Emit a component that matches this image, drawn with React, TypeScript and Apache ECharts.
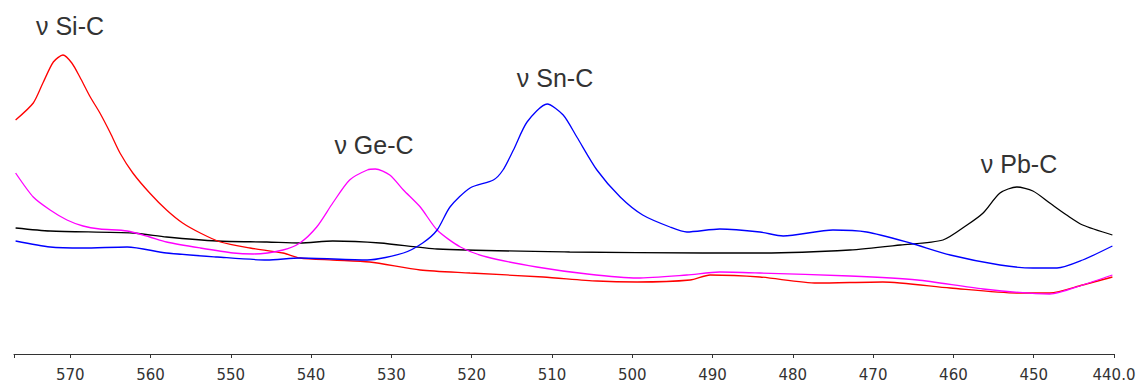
import React, { useEffect, useRef } from "react";
import * as echarts from "echarts";

// wavenumber (cm-1) / relative intensity (arbitrary units)
const siC: [number, number][] = [
  [576.8, 234], [574.6, 251], [573.4, 271], [572.1, 292], [570.9, 299], [569.8, 291],
  [568.8, 277], [567.5, 257], [566.3, 241], [565.0, 221], [563.8, 201], [562.2, 181],
  [560.1, 161], [558.0, 144], [556.0, 131], [553.8, 121], [551.3, 112], [547.6, 106],
  [543.5, 101], [541.4, 96], [537.3, 94], [532.7, 92], [526.4, 84], [520.2, 81],
  [511.1, 77], [504.4, 73], [499.4, 72], [492.8, 74], [490.3, 79], [484.1, 77],
  [477.0, 71], [468.8, 72], [460.4, 66], [452.1, 61], [448.0, 61], [443.9, 69], [440.2, 77],
];

const geC: [number, number][] = [
  [576.8, 181], [574.6, 157], [572.5, 144], [570.4, 134], [568.4, 128], [566.3, 125],
  [562.9, 123], [560.1, 117], [558.0, 112], [553.8, 106], [549.7, 101], [547.2, 100],
  [543.5, 104], [541.4, 111], [539.3, 127], [537.3, 151], [535.2, 174], [533.0, 184],
  [532.0, 185], [530.2, 179], [528.5, 164], [526.4, 147], [524.3, 124], [521.4, 107],
  [518.1, 97], [511.9, 87], [505.6, 80], [499.4, 76], [493.2, 79], [489.1, 82],
  [484.1, 81], [472.9, 78], [464.5, 74], [456.3, 65], [448.0, 60], [443.9, 69], [440.2, 79],
];

const snC: [number, number][] = [
  [576.8, 113], [572.5, 107], [568.4, 106], [562.9, 107], [558.0, 101], [551.7, 97],
  [545.5, 94], [541.4, 96], [533.0, 94], [528.5, 101], [526.1, 111], [524.3, 124],
  [522.7, 147], [520.2, 166], [517.3, 174], [516.1, 184], [514.8, 204], [513.1, 232],
  [510.6, 250], [508.6, 239], [506.9, 217], [504.4, 184], [501.5, 157], [498.7, 139],
  [495.3, 127], [493.2, 122], [489.1, 125], [484.1, 122], [481.2, 118], [475.0, 124],
  [470.8, 122], [465.4, 111], [460.4, 99], [454.2, 89], [450.1, 86], [447.1, 86],
  [443.9, 94], [440.2, 108],
];

const pbC: [number, number][] = [
  [576.8, 126], [572.5, 123], [562.2, 121], [558.0, 117], [551.7, 113], [545.5, 112],
  [541.4, 111], [537.3, 113], [531.4, 111], [524.3, 105], [507.8, 102], [491.2, 101],
  [484.1, 101], [472.9, 104], [466.6, 109], [461.3, 114], [458.3, 129], [456.3, 141],
  [454.2, 161], [452.1, 167], [450.1, 163], [448.0, 151], [445.9, 139], [443.9, 129],
  [440.2, 119],
];

const tickValues = [440, 450, 460, 470, 480, 490, 500, 510, 520, 530, 540, 550, 560, 570];
const bandLabels = ["ν Si-C", "ν Ge-C", "ν Sn-C", "ν Pb-C"];

export default function App() {
  const ref = useRef<HTMLDivElement>(null);
  useEffect(() => {
    document.body.style.margin = "0";
    if (!ref.current) return;
    const chart = echarts.init(ref.current, null, { renderer: "svg" });
    const line = (name: string, data: [number, number][], color: string) => ({
      name,
      type: "line",
      data,
      showSymbol: false,
      smooth: 0.25,
      lineStyle: { color, width: 1.3 },
      itemStyle: { color },
    });
    const labelStyle = {
      fill: "#333",
      fontSize: 25,
      fontFamily: "Liberation Sans, Arial, sans-serif",
      textAlign: "center",
      textVerticalAlign: "middle",
    };
    const labelPos = [
      [70, 26],
      [374, 145],
      [555, 78],
      [1019, 164],
    ];
    chart.setOption({
      animation: false,
      grid: { left: 14, right: 25, top: 0, bottom: 31 },
      xAxis: {
        type: "value",
        min: 440,
        max: 577,
        inverse: true,
        splitLine: { show: false },
        axisLine: { lineStyle: { color: "#333", width: 1 } },
        axisTick: {
          length: 4,
          lineStyle: { color: "#333" },
          customValues: [...tickValues, 577],
        },
        axisLabel: {
          customValues: tickValues,
          color: "#333",
          fontSize: 15,
          fontFamily: "DejaVu Sans, sans-serif",
          margin: 13,
          formatter: (v: number) => (v === 440 ? "440.0" : String(v)),
        },
      },
      yAxis: { type: "value", min: 0, max: 354, show: false },
      series: [
        line("Pb-C", pbC, "#000000"),
        line("Si-C", siC, "#ff0000"),
        line("Ge-C", geC, "#ff00ff"),
        line("Sn-C", snC, "#0000ff"),
      ],
      graphic: bandLabels.map((t, i) => ({
        type: "text",
        x: labelPos[i][0],
        y: labelPos[i][1],
        style: { ...labelStyle, text: t },
      })),
    });
    return () => chart.dispose();
  }, []);
  return <div ref={ref} style={{ width: 1139, height: 385 }} />;
}
